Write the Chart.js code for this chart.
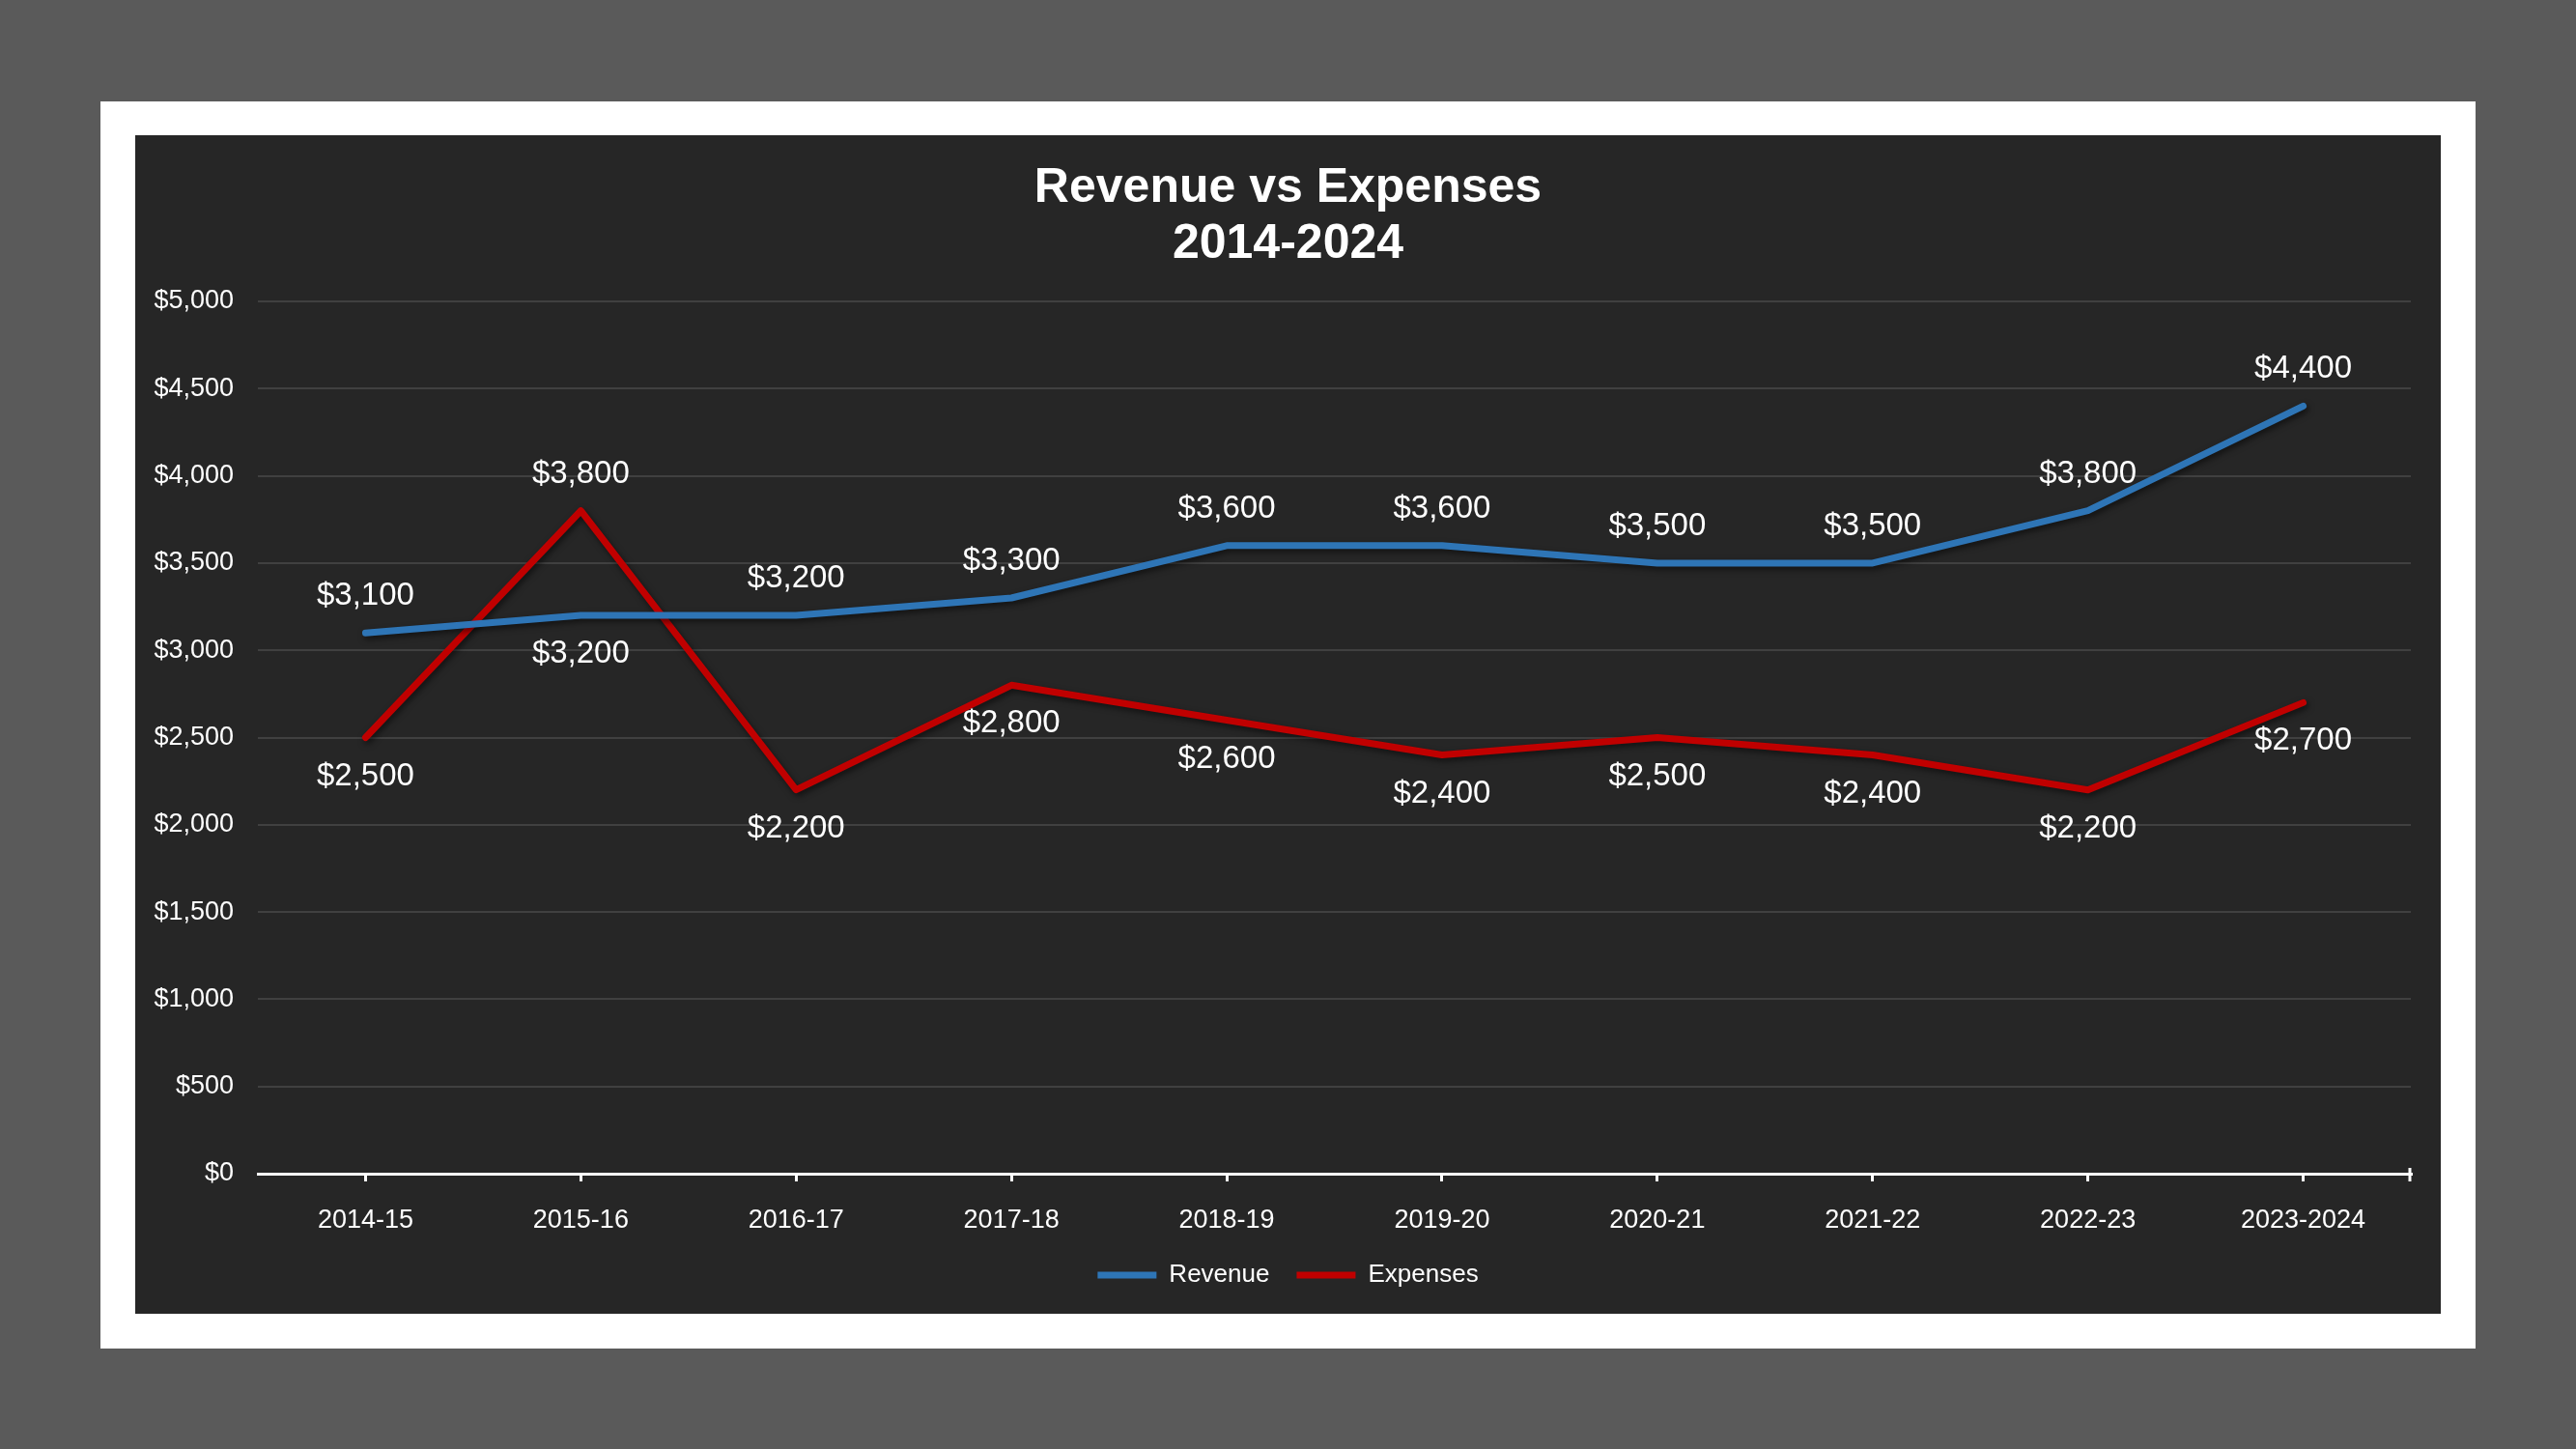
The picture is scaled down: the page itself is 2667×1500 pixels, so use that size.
<!DOCTYPE html>
<html>
<head>
<meta charset="utf-8">
<script src="https://cdn.jsdelivr.net/npm/chart.js@4.4.1/dist/chart.umd.min.js"></script>
<style>
  html, body { margin: 0; padding: 0; }
  body { width: 2667px; height: 1500px; background: #5a5a5a; position: relative; overflow: hidden; }
  #frame { position: absolute; left: 104px; top: 105px; width: 2459px; height: 1291px; background: #ffffff; }
  #panel { position: absolute; left: 140px; top: 140px; width: 2387px; height: 1220px; background: #262626; }
</style>
</head>
<body>
<div id="frame"></div>
<div id="panel"><canvas id="myChart"></canvas></div>
<script>
var years = ["2014-15", "2015-16", "2016-17", "2017-18", "2018-19", "2019-20", "2020-21", "2021-22", "2022-23", "2023-2024"];
var revenue = [3100, 3200, 3200, 3300, 3600, 3600, 3500, 3500, 3800, 4400];
var expenses = [2500, 3800, 2200, 2800, 2600, 2400, 2500, 2400, 2200, 2700];
var yTicks = [0, 500, 1000, 1500, 2000, 2500, 3000, 3500, 4000, 4500, 5000];

var FONT = "'Liberation Sans', Arial, sans-serif";

function money(v) {
  return '$' + Number(v).toLocaleString('en-US');
}

// where each value label sits relative to its point
var revenueLabelSide = ['up', 'down', 'up', 'up', 'up', 'up', 'up', 'up', 'up', 'up'];
var expensesLabelSide = ['down', 'up', 'down', 'down', 'down', 'down', 'down', 'down', 'down', 'down'];

var lineShadow = {
  id: 'lineShadow',
  beforeDatasetDraw: function(chart) {
    var ctx = chart.ctx;
    ctx.save();
    ctx.shadowColor = 'rgba(0,0,0,0.55)';
    ctx.shadowBlur = 6;
    ctx.shadowOffsetX = 2;
    ctx.shadowOffsetY = 3;
  },
  afterDatasetDraw: function(chart) {
    chart.ctx.restore();
  }
};

var valueLabels = {
  id: 'valueLabels',
  afterDatasetsDraw: function(chart) {
    var ctx = chart.ctx;
    ctx.save();
    ctx.font = '33px ' + FONT;
    ctx.fillStyle = '#ffffff';
    ctx.textAlign = 'center';
    ctx.textBaseline = 'middle';
    chart.data.datasets.forEach(function(ds, i) {
      var meta = chart.getDatasetMeta(i);
      meta.data.forEach(function(pt, j) {
        var dy = ds.labelSide[j] == 'up' ? -38 : 40;
        ctx.fillText(money(ds.data[j]), pt.x, pt.y + dy);
      });
    });
    ctx.restore();
  }
};

// the closing tick mark at the right end of the category axis
var endTick = {
  id: 'endTick',
  afterDraw: function(chart) {
    var x = chart.scales.x;
    var ctx = chart.ctx;
    ctx.save();
    ctx.strokeStyle = '#ffffff';
    ctx.lineWidth = 3;
    ctx.beginPath();
    ctx.moveTo(x.right - 1, x.top - 6);
    ctx.lineTo(x.right - 1, x.top + 8);
    ctx.stroke();
    ctx.restore();
  }
};

function renderChart() {
  var ctx = document.getElementById("myChart").getContext('2d');
  var myChart = new Chart(ctx, {
    type: 'line',
    data: {
      labels: years,
      datasets: [{
        label: 'Revenue',
        data: revenue,
        labelSide: revenueLabelSide,
        borderColor: '#2e75b6',
        backgroundColor: '#2e75b6',
        borderWidth: 7,
        borderCapStyle: 'round',
        borderJoinStyle: 'round',
        pointRadius: 0,
        tension: 0
      }, {
        label: 'Expenses',
        data: expenses,
        labelSide: expensesLabelSide,
        borderColor: '#c00000',
        backgroundColor: '#c00000',
        borderWidth: 7,
        borderCapStyle: 'round',
        borderJoinStyle: 'round',
        pointRadius: 0,
        tension: 0
      }]
    },
    options: {
      responsive: true,
      maintainAspectRatio: false,
      devicePixelRatio: 1,
      animation: false,
      layout: {
        padding: { top: 0, left: 0, right: 0, bottom: 17 }
      },
      plugins: {
        title: {
          display: true,
          text: ['Revenue vs Expenses', '2014-2024'],
          color: '#ffffff',
          font: { family: FONT, size: 50, weight: 'bold', lineHeight: 1.16 },
          padding: { top: 26, bottom: 30 }
        },
        legend: {
          display: true,
          position: 'bottom',
          labels: {
            color: '#ffffff',
            font: { family: FONT, size: 26 },
            usePointStyle: true,
            pointStyle: 'line',
            pointStyleWidth: 61,
            boxHeight: 26,
            padding: 28
          }
        },
        tooltip: { enabled: false }
      },
      scales: {
        x: {
          offset: true,
          afterFit: function(scale) {
            scale.height = 64;
          },
          grid: {
            display: true,
            drawOnChartArea: false,
            drawTicks: true,
            tickLength: 8,
            offset: false,
            color: '#ffffff',
            lineWidth: 3
          },
          border: { display: true, color: '#ffffff', width: 3 },
          ticks: {
            color: '#ffffff',
            font: { family: FONT, size: 27 },
            padding: 24,
            maxRotation: 0,
            autoSkip: false
          }
        },
        y: {
          min: yTicks[0],
          max: yTicks[yTicks.length - 1],
          afterBuildTicks: function(scale) {
            scale.ticks = yTicks.map(function(v) { return { value: v }; });
          },
          afterFit: function(scale) {
            scale.width = 127;
          },
          grid: { color: '#404040', lineWidth: 2, drawTicks: false },
          border: { display: false },
          ticks: {
            color: '#ffffff',
            font: { family: FONT, size: 27 },
            padding: 25,
            callback: function(v) { return money(v); }
          }
        },
        // empty right-hand gutter so title and legend stay centred on the panel
        gutter: {
          type: 'linear',
          position: 'right',
          display: true,
          afterFit: function(scale) {
            scale.width = 31;
          },
          grid: { display: false },
          border: { display: false },
          ticks: { display: false }
        }
      }
    },
    plugins: [lineShadow, valueLabels, endTick]
  });
}

renderChart();
</script>
</body>
</html>
